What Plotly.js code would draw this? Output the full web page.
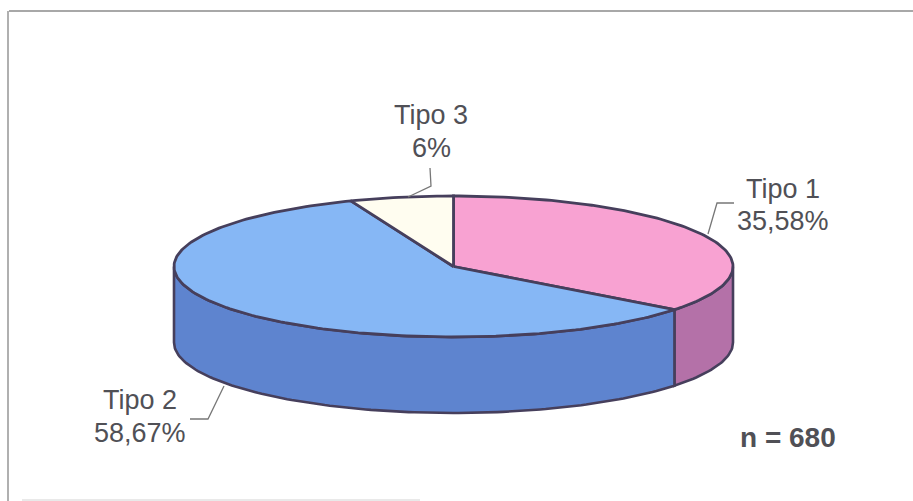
<!DOCTYPE html>
<html>
<head>
<meta charset="utf-8">
<script src="https://cdn.plot.ly/plotly-3.0.1.min.js"></script>
<style>html,body{margin:0;padding:0;background:#fff}#chart{width:913px;height:501px}</style>
</head>
<body>
<div id="chart"></div>
<script>
// Distribution by type (n = 680)
const categories = ["Tipo 1", "Tipo 2", "Tipo 3"];
const shares = [35.58, 58.67, 6];
const shareLabels = ["35,58%", "58,67%", "6%"];
const sampleNote = "n = 680";
const topColors = ["#f8a2d2", "#86b7f5", "#fffdf0"];
const sideColors = ["#b471a8", "#5e84cf", "#d8d6c8"];

// Elliptical disc seen from above, in axis units
const cx = 453.5, cy = 266.5, rx = 279.5, ry = 70.5, depth = 76;
const outline = "#463f5c";
const total = shares.reduce((a, b) => a + b, 0);

const px = a => cx + rx * Math.sin(a);
const py = (a, drop) => cy - ry * Math.cos(a) + (drop || 0);
function arc(a0, a1, drop) {
  const n = Math.max(2, Math.ceil(Math.abs(a1 - a0) / 0.02));
  const xs = [], ys = [];
  for (let i = 0; i <= n; i++) {
    const a = a0 + (a1 - a0) * i / n;
    xs.push(px(a)); ys.push(py(a, drop));
  }
  return [xs, ys];
}

const traces = [];
let start = 0;
const wedges = shares.map(v => {
  const w = {a0: start, a1: start + v / total * 2 * Math.PI};
  start = w.a1;
  return w;
});

// Rim: only the part of each wedge facing the viewer
wedges.forEach((w, i) => {
  const a0 = Math.max(w.a0, Math.PI / 2), a1 = Math.min(w.a1, 1.5 * Math.PI);
  if (a1 <= a0) return;
  const [tx, ty] = arc(a0, a1, 0);
  const [bx, by] = arc(a1, a0, depth);
  traces.push({type: "scatter", mode: "lines", x: tx.concat(bx, tx[0]), y: ty.concat(by, ty[0]),
    fill: "toself", fillcolor: sideColors[i], line: {color: outline, width: 2.6}, hoverinfo: "skip"});
});

// Top face
wedges.forEach((w, i) => {
  const [tx, ty] = arc(w.a0, w.a1, 0);
  traces.push({type: "scatter", mode: "lines", x: [cx].concat(tx, cx), y: [cy].concat(ty, cy),
    fill: "toself", fillcolor: topColors[i], line: {color: outline, width: 2.8}, hoverinfo: "skip"});
});

// Leader lines from each label to its wedge
const leaderX = [[734, 717, 708], [190, 208, 224], [430, 431, 408]];
const leaderY = [[203, 203, 234], [419, 419, 386], [168, 186, 197]];
leaderX.forEach((x, i) => traces.push({type: "scatter", mode: "lines", x, y: leaderY[i],
  line: {color: "#777", width: 1.3}, hoverinfo: "skip"}));

const font = {family: "Liberation Sans, Arial, sans-serif", size: 27, color: "#505056"};
const labelX = [783, 140, 431];
const nameY = [189, 400, 115];
const valueY = [221, 433, 148];
const annotations = [];
categories.forEach((c, i) => {
  annotations.push({x: labelX[i], y: nameY[i], text: c, xref: "x", yref: "y", showarrow: false, font});
  annotations.push({x: labelX[i], y: valueY[i], text: shareLabels[i], xref: "x", yref: "y", showarrow: false, font});
});
annotations.push({x: 787.5, y: 437, text: "<b>" + sampleNote + "</b>", xref: "x", yref: "y", showarrow: false,
  font: {family: font.family, size: 28, color: "#505056"}});

const layout = {
  width: 913, height: 501, margin: {l: 0, r: 0, t: 0, b: 0},
  paper_bgcolor: "#fff", plot_bgcolor: "#fff", showlegend: false,
  xaxis: {range: [0, 913], visible: false, fixedrange: true},
  yaxis: {range: [501, 0], visible: false, fixedrange: true},
  annotations,
  shapes: [
    {type: "line", xref: "x", yref: "y", x0: 9, x1: 913, y0: 11, y1: 11, line: {color: "#a8a8a8", width: 2}},
    {type: "line", xref: "x", yref: "y", x0: 8, x1: 8, y0: 11, y1: 501, line: {color: "#b0b0b0", width: 2}},
    {type: "line", xref: "x", yref: "y", x0: 22, x1: 420, y0: 500, y1: 500, line: {color: "#e2e2e2", width: 1.5}}
  ]
};
Plotly.newPlot("chart", traces, layout, {displayModeBar: false, staticPlot: true});
</script>
</body>
</html>
